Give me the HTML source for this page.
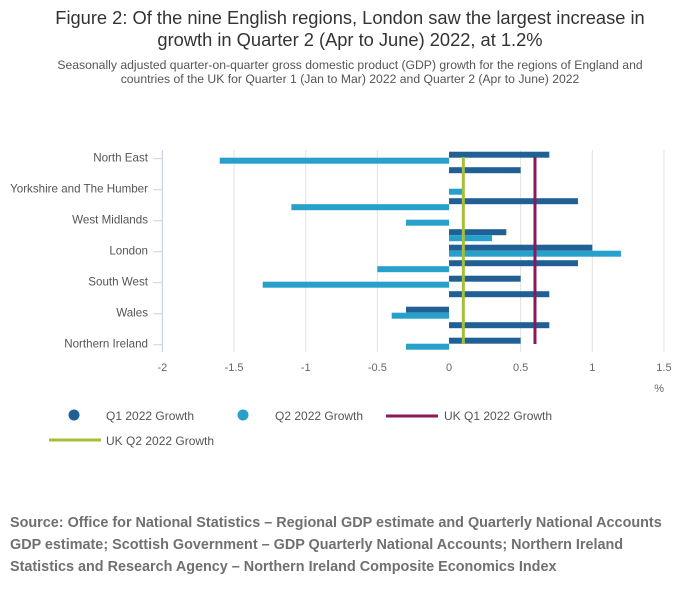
<!DOCTYPE html>
<html><head><meta charset="utf-8"><style>
body{margin:0;width:700px;height:599px;background:#fff;font-family:"Liberation Sans",sans-serif;overflow:hidden}
</style></head><body>
<svg width="700" height="599" style="position:absolute;left:0;top:0">
<text x="350" y="24" text-anchor="middle" font-size="18.3" fill="#333">Figure 2: Of the nine English regions, London saw the largest increase in</text>
<text x="350" y="46" text-anchor="middle" font-size="18.3" fill="#333">growth in Quarter 2 (Apr to June) 2022, at 1.2%</text>
<text x="350" y="69" text-anchor="middle" font-size="12.2" fill="#555">Seasonally adjusted quarter-on-quarter gross domestic product (GDP) growth for the regions of England and</text>
<text x="350" y="83" text-anchor="middle" font-size="12.2" fill="#555">countries of the UK for Quarter 1 (Jan to Mar) 2022 and Quarter 2 (Apr to June) 2022</text>
<g id="plot"></g>
<g>
<circle cx="74" cy="415" r="5.5" fill="#206095"/>
<text x="106" y="420" font-size="12" fill="#555">Q1 2022 Growth</text>
<circle cx="243" cy="415" r="5.5" fill="#27a0cc"/>
<text x="275" y="420" font-size="12" fill="#555">Q2 2022 Growth</text>
<line x1="386" y1="416" x2="438" y2="416" stroke="#871a5b" stroke-width="3"/>
<text x="444" y="420" font-size="12" fill="#555">UK Q1 2022 Growth</text>
<line x1="49" y1="440" x2="101" y2="440" stroke="#a8bd3a" stroke-width="3"/>
<text x="106" y="445" font-size="12" fill="#555">UK Q2 2022 Growth</text>
</g>
<text x="10" y="527" font-size="14.4" font-weight="bold" fill="#707070">Source: Office for National Statistics – Regional GDP estimate and Quarterly National Accounts</text>
<text x="10" y="549" font-size="14.4" font-weight="bold" fill="#707070">GDP estimate; Scottish Government – GDP Quarterly National Accounts; Northern Ireland</text>
<text x="10" y="571" font-size="14.4" font-weight="bold" fill="#707070">Statistics and Research Agency – Northern Ireland Composite Economics Index</text>
</svg>
<script>
const regions=["North East","North West","Yorkshire and The Humber","East Midlands","West Midlands","East of England","London","South East","South West","England","Wales","Scotland","Northern Ireland"];
const q1=[0.7,0.5,0,0.9,0,0.4,1.0,0.9,0.5,0.7,-0.3,0.7,0.5];
const q2=[-1.6,0,0.1,-1.1,-0.3,0.3,1.2,-0.5,-1.3,0,-0.4,0,-0.3];
const ukQ1=0.6, ukQ2=0.1;
const xTicks=[-2,-1.5,-1,-0.5,0,0.5,1,1.5];
const NS="http://www.w3.org/2000/svg";
const g=document.getElementById('plot');
const x=v=>449+v*143.3;
const rowY=i=>157.7+i*15.5;
function mk(t,a){const e=document.createElementNS(NS,t);for(const k in a)e.setAttribute(k,a[k]);g.appendChild(e);return e;}
xTicks.forEach(t=>{
 if(t!==-2&&t!==0){const l=mk('line',{x1:x(t),x2:x(t),y1:150,y2:352,stroke:'#e2e2e2','stroke-width':1});
 
 }
 const tx=mk('text',{x:x(t),y:371,'text-anchor':'middle','font-size':11,fill:'#666'});tx.textContent=String(t);
 
 
});
const ax=mk('line',{x1:x(-2),x2:x(-2),y1:150,y2:352,stroke:'#c8d4e6','stroke-width':1.2});


const pu=mk('text',{x:664,y:392,'text-anchor':'end','font-size':11,fill:'#666'});pu.textContent='%';


regions.forEach((r,i)=>{
 const y=rowY(i);
 if(i%2===0){
  const tk=mk('line',{x1:x(-2)-9,x2:x(-2),y1:y+1,y2:y+1,stroke:'#c8d4e6','stroke-width':1});
  
  
  const lb=mk('text',{x:148,y:y+4,'text-anchor':'end','font-size':11.6,fill:'#555'});lb.textContent=r;
  
  
 }
 const b1=mk('rect',{x:Math.min(x(0),x(q1[i])),y:y-6,width:Math.abs(x(q1[i])-x(0)),height:6,fill:'#206095'});
 
 
 const b2=mk('rect',{x:Math.min(x(0),x(q2[i])),y:y,width:Math.abs(x(q2[i])-x(0)),height:6,fill:'#27a0cc'});
 
 
});
const l1=mk('line',{x1:x(ukQ1),x2:x(ukQ1),y1:157,y2:344,stroke:'#871a5b','stroke-width':3});


const l2=mk('line',{x1:x(ukQ2),x2:x(ukQ2),y1:157,y2:344,stroke:'#a8bd3a','stroke-width':3});


</script>
</body></html>
